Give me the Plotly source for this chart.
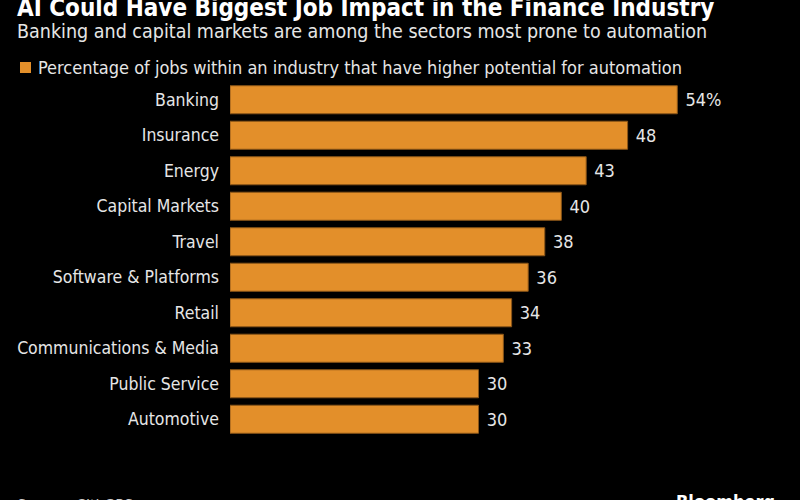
import plotly.graph_objects as go

categories = ["Banking", "Insurance", "Energy", "Capital Markets", "Travel",
              "Software & Platforms", "Retail", "Communications & Media",
              "Public Service", "Automotive"]
values = [54, 48, 43, 40, 38, 36, 34, 33, 30, 30]
labels = ["54%", "48", "43", "40", "38", "36", "34", "33", "30", "30"]

title = "AI Could Have Biggest Job Impact in the Finance Industry"
subtitle = "Banking and capital markets are among the sectors most prone to automation"
series_name = "Percentage of jobs within an industry that have higher potential for automation"
source = "Source: Citi GPS"
brand = "Bloomberg"

FONT = "DejaVu Sans Condensed, DejaVu Sans, sans-serif"
BAR = "#E38F2A"
W, H = 800, 500
L, R, T, B = 230, 73, 82, 63
pw, ph = W - L - R, H - T - B

def px(x):
    return (x - L) / pw

def py(y):
    return (H - B - y) / ph

fig = go.Figure()
fig.add_trace(go.Bar(
    x=values, y=categories, orientation="h", name=series_name,
    text=["\u00a0" + t for t in labels], textposition="outside", cliponaxis=False,
    textfont=dict(color="#e6e6e6", size=18, family=FONT),
    marker=dict(color=BAR, line=dict(color="#8a5518", width=1)),
    showlegend=False,
))

fig.update_layout(
    width=W, height=H,
    margin=dict(l=L, r=R, t=T, b=B, autoexpand=False),
    paper_bgcolor="black", plot_bgcolor="black",
    bargap=0.21,
    font=dict(family=FONT, color="#e6e6e6", size=18),
    xaxis=dict(range=[0, 60], visible=False, fixedrange=True),
    yaxis=dict(autorange="reversed", showgrid=False, zeroline=False, showline=False,
               ticks="", ticklabelstandoff=10,
               tickfont=dict(size=17.5, color="#e6e6e6", family=FONT)),
    shapes=[dict(type="rect", xref="paper", yref="paper",
                 x0=px(20), x1=px(31), y0=py(73), y1=py(62),
                 fillcolor=BAR, line=dict(width=0))],
    annotations=[
        dict(text="<b>" + title + "</b>", x=px(15), y=py(-8), xref="paper", yref="paper",
             xanchor="left", yanchor="top", showarrow=False,
             font=dict(size=24, color="white", family=FONT)),
        dict(text=subtitle, x=px(15), y=py(18), xref="paper", yref="paper",
             xanchor="left", yanchor="top", showarrow=False,
             font=dict(size=19.5, color="#e6e6e6", family=FONT)),
        dict(text=series_name, x=px(36), y=py(55), xref="paper", yref="paper",
             xanchor="left", yanchor="top", showarrow=False,
             font=dict(size=18, color="#e6e6e6", family=FONT)),
        dict(text=source, x=px(15), y=py(494), xref="paper", yref="paper",
             xanchor="left", yanchor="top", showarrow=False,
             font=dict(size=16, color="#cccccc", family=FONT)),
        dict(text="<b>" + brand + "</b>", x=px(777), y=py(489), xref="paper", yref="paper",
             xanchor="right", yanchor="top", showarrow=False,
             font=dict(size=18, color="white", family=FONT)),
    ],
)

fig.write_html("out.html")
